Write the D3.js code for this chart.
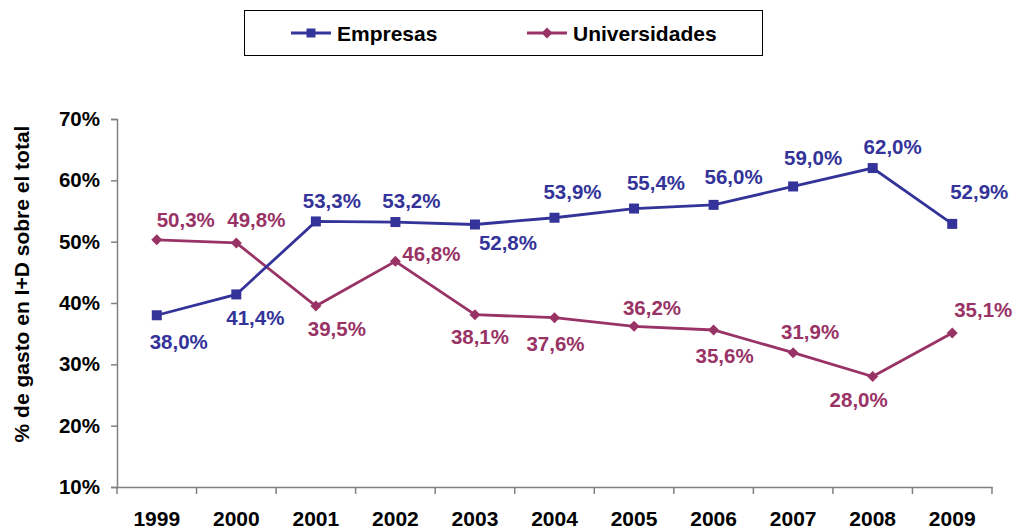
<!DOCTYPE html>
<html><head><meta charset="utf-8">
<script src="https://cdn.jsdelivr.net/npm/d3@7"></script>
<style>body{margin:0;background:#fff}svg{display:block}text{font-family:"Liberation Sans",Arial,sans-serif;font-weight:bold}</style>
</head><body>
<svg id="c" width="1015" height="529"></svg>
<script>
const years = ["1999","2000","2001","2002","2003","2004","2005","2006","2007","2008","2009"];
const empresas = [38.0,41.4,53.3,53.2,52.8,53.9,55.4,56.0,59.0,62.0,52.9];
const universidades = [50.3,49.8,39.5,46.8,38.1,37.6,36.2,35.6,31.9,28.0,35.1];
const yTicks = [10,20,30,40,50,60,70];
const seriesNames = ["Empresas","Universidades"];
const axisTitle = "% de gasto en I+D sobre el total";

// label placement offsets relative to marker (dx, dy of label centre)
const empOffsets = [[22,26],[19,23],[16,-21],[16,-22],[33,18],[18,-26],[22,-26],[20,-28],[20,-29],[20,-22],[27,-32]];
const uniOffsets = [[29,-20],[20,-23],[21,22],[36,-8],[5,22],[1,26],[18,-19],[11,26],[17,-21],[-14,23],[31,-24]];

const blue = "#333399", purple = "#993366", axisCol = "#808080";
const svg = d3.select("#c");
const x = d3.scaleBand().domain(years).range([117, 992]).padding(0);
const y = d3.scaleLinear().domain([10, 70]).range([487, 119]);
const cx = d => x(d) + x.bandwidth() / 2;
const fmt = v => v.toFixed(1).replace(".", ",") + "%";

// Y axis
const ya = svg.append("g").attr("transform", "translate(117,0)")
  .call(d3.axisLeft(y).tickValues(yTicks).tickSize(6).tickPadding(11).tickFormat(d => d + "%"));
ya.select(".domain").attr("stroke", axisCol).attr("stroke-width", 1.5);
ya.selectAll(".tick line").attr("stroke", axisCol).attr("stroke-width", 1.5);
ya.selectAll(".tick text").attr("font-size", 20.5).attr("fill", "#000").attr("font-family", "Liberation Sans").attr("font-weight", "bold");

// X axis
const xa = svg.append("g").attr("transform", "translate(0,487)")
  .call(d3.axisBottom(x).tickSize(0).tickPadding(24));
xa.select(".domain").attr("stroke", axisCol).attr("stroke-width", 1.5);
xa.selectAll(".tick text").attr("font-size", 21).attr("fill", "#000").attr("font-family", "Liberation Sans").attr("font-weight", "bold");
const edges = years.map(d => x(d)).concat([x.range()[1]]);
svg.append("g").selectAll("line").data(edges).join("line")
  .attr("x1", d => d).attr("x2", d => d).attr("y1", 487).attr("y2", 494)
  .attr("stroke", axisCol).attr("stroke-width", 1.5);

// axis title
svg.append("text").attr("transform", "translate(29,284) rotate(-90)")
  .attr("text-anchor", "middle").attr("font-size", 21).attr("fill", "#000").text(axisTitle);

const line = d3.line().x((d, i) => cx(years[i])).y(d => y(d));
function drawSeries(vals, color, shape, offs) {
  svg.append("path").datum(vals).attr("d", line).attr("fill", "none")
    .attr("stroke", color).attr("stroke-width", 2.8);
  svg.append("g").selectAll("path").data(vals).join("path")
    .attr("transform", (d, i) => `translate(${cx(years[i])},${y(d)})`)
    .attr("d", shape).attr("fill", color);
  svg.append("g").selectAll("text").data(vals).join("text")
    .attr("x", (d, i) => cx(years[i]) + offs[i][0])
    .attr("y", (d, i) => y(d) + offs[i][1] + 7.5)
    .attr("text-anchor", "middle").attr("font-size", 20.5).attr("fill", color)
    .text(fmt);
}
const square = "M-5,-5H5V5H-5Z";
const diamond = "M0,-5.5L5.5,0L0,5.5L-5.5,0Z";
drawSeries(universidades, purple, diamond, uniOffsets);
drawSeries(empresas, blue, square, empOffsets);

// legend
const lg = svg.append("g");
lg.append("rect").attr("x", 244.5).attr("y", 10.5).attr("width", 518).attr("height", 45)
  .attr("fill", "#fff").attr("stroke", "#000").attr("stroke-width", 1);
const legendItems = [
  {name: seriesNames[0], color: blue, shape: "M-4.5,-4.5H4.5V4.5H-4.5Z", x: 291},
  {name: seriesNames[1], color: purple, shape: "M0,-5.5L5.5,0L0,5.5L-5.5,0Z", x: 527}
];
legendItems.forEach(it => {
  lg.append("line").attr("x1", it.x).attr("x2", it.x + 40).attr("y1", 33).attr("y2", 33)
    .attr("stroke", it.color).attr("stroke-width", 2.8);
  lg.append("path").attr("transform", `translate(${it.x + 20},33)`).attr("d", it.shape).attr("fill", it.color);
  lg.append("text").attr("x", it.x + 46).attr("y", 40.5).attr("font-size", 21).attr("fill", "#000").text(it.name);
});
</script>
</body></html>
